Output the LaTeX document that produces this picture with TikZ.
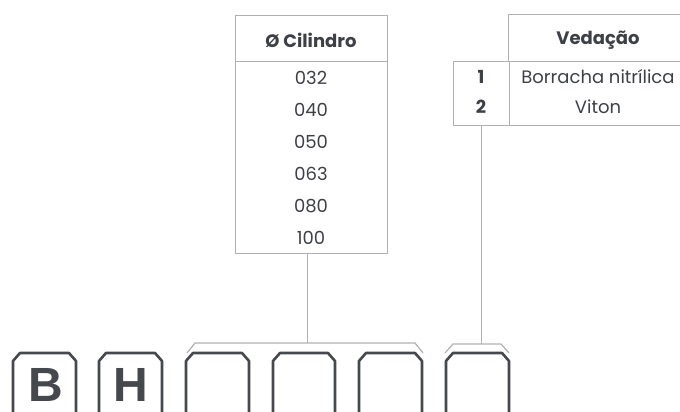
\documentclass[tikz,border=0pt]{standalone}
\usepackage{fontspec}
\setmainfont{Poppins}
\newfontfamily\boxfont{Liberation Sans}
\definecolor{txt}{HTML}{3D4046}
\definecolor{rule}{HTML}{B0B0B0}
\definecolor{boxc}{HTML}{45484D}
\tikzset{
  tline/.style={draw=rule, line width=1pt},
  val/.style={text=txt, font=\fontsize{18}{20}\selectfont, inner sep=0pt},
  hdr/.style={text=txt, font=\fontsize{18}{20}\selectfont\bfseries, inner sep=0pt},
  slotline/.style={draw=boxc, line width=2.6pt, line join=round},
  letter/.style={text=boxc, font=\boxfont\fontsize{48}{50}\selectfont\bfseries, inner sep=0pt},
}
\newcommand{\slotbox}[2]{\draw[slotline] (#1,425) -- (#1,361) -- ({#1+7},353) -- ({#2-7},353) -- (#2,361) -- (#2,425);}
\begin{document}
\begin{tikzpicture}[x=1pt,y=-1pt]
\useasboundingbox (0,0) rectangle (680,412);
% table 1
\node[tline, minimum width=152pt, minimum height=238pt, inner sep=0pt] (t1) at (311,134.5) {};
\draw[tline] (t1.west |- 0,62) -- (t1.east |- 0,62);
\node[hdr] (h1) at (311,40) {Ø Cilindro};
\node[val] (r1) at (311,78) {032};
\node[val] (r2) at (311,110) {040};
\node[val] (r3) at (311,142) {050};
\node[val] (r4) at (311,174) {063};
\node[val] (r5) at (311,206) {080};
\node[val] (r6) at (311,238) {100};
% table 2
\draw[tline] (508,62) -- (508,15) -- (700,15);
\draw[tline] (453,62) rectangle (700,125);
\draw[tline] (509,62) -- (509,125);
\coordinate (t2b) at (481,125);
\node[hdr] (h2) at (598,40) {Vedação};
\node[hdr] (n1) at (481,77) {1};
\node[hdr] (n2) at (481,107) {2};
\node[val] (v1) at (598,77) {Borracha nitrílica};
\node[val] (v2) at (598,107) {Viton};
% slots
\slotbox{13}{76}
\slotbox{99}{162}
\slotbox{186}{249}
\slotbox{273}{335}
\slotbox{359}{422}
\slotbox{446}{509}
\node[letter] (lb) at (46,385) {B};
\node[letter] (lh) at (131,385) {H};
% brackets
\coordinate (b1) at (307,343);
\coordinate (b2) at (481,344);
\draw[tline, line width=1.2pt] (187,353) -- (195,343) -- (415,343) -- (423,353);
\draw[tline, line width=1.2pt] (445,353) -- (453,344) -- (501,344) -- (509,353);
\draw[tline] (t1.south -| b1) -- (b1);
\draw[tline] (t2b) -- (b2);
\end{tikzpicture}
\end{document}
